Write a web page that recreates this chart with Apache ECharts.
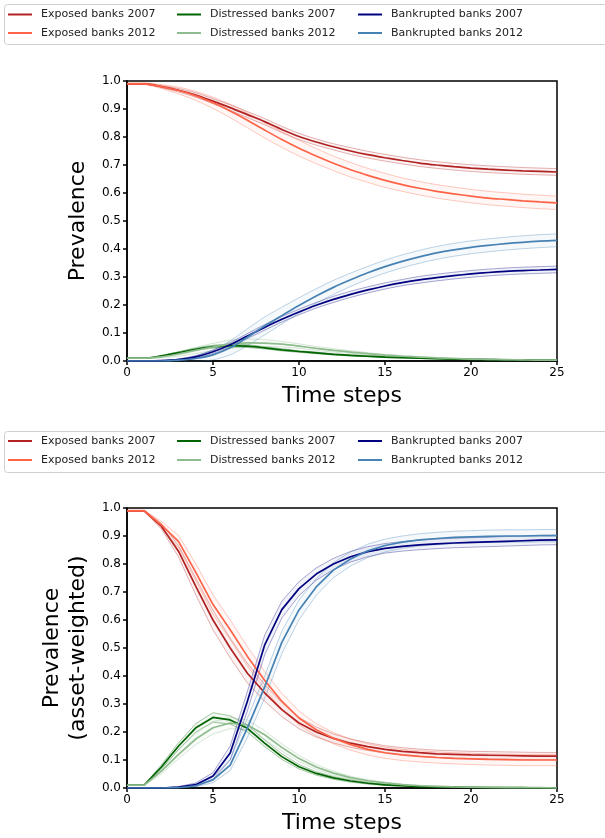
<!DOCTYPE html>
<html><head><meta charset="utf-8">
<script src="https://cdn.jsdelivr.net/npm/echarts@6/dist/echarts.min.js"></script>
<style>html,body{margin:0;padding:0;background:#fff}#c{width:605px;height:838px}</style>
</head><body><div id="c"></div>
<script>
const timeSteps = [0,1,2,3,4,5,6,7,8,9,10,11,12,13,14,15,16,17,18,19,20,21,22,23,24,25];
const yTicks = [0,0.1,0.2,0.3,0.4,0.5,0.6,0.7,0.8,0.9,1.0];
const xTicks = [0,5,10,15,20,25];
const seriesNames = ['Exposed banks 2007','Exposed banks 2012','Distressed banks 2007','Distressed banks 2012','Bankrupted banks 2007','Bankrupted banks 2012'];

// Top chart (Prevalence): means and half-widths of the bands
const topExposed2007 = [0.99,0.99,0.98,0.967,0.95,0.928,0.905,0.88,0.855,0.827,0.802,0.782,0.765,0.75,0.737,0.726,0.716,0.707,0.70,0.694,0.689,0.685,0.682,0.679,0.677,0.675];
const topExposed2012 = [0.99,0.99,0.98,0.966,0.947,0.922,0.893,0.86,0.825,0.791,0.76,0.732,0.706,0.683,0.663,0.645,0.63,0.617,0.606,0.597,0.589,0.582,0.577,0.572,0.568,0.565];
const topDistressed2007 = [0.01,0.01,0.018,0.03,0.042,0.051,0.055,0.053,0.047,0.04,0.034,0.029,0.024,0.02,0.017,0.014,0.012,0.01,0.008,0.007,0.006,0.005,0.004,0.004,0.003,0.003];
const topDistressed2012 = [0.01,0.01,0.015,0.025,0.038,0.05,0.06,0.065,0.064,0.06,0.053,0.045,0.038,0.032,0.026,0.021,0.017,0.014,0.011,0.009,0.007,0.006,0.005,0.004,0.003,0.003];
const topBankrupted2007 = [0,0,0.001,0.005,0.015,0.033,0.058,0.089,0.12,0.149,0.175,0.199,0.22,0.238,0.254,0.268,0.28,0.29,0.298,0.305,0.311,0.316,0.32,0.323,0.325,0.327];
const topBankrupted2012 = [0,0,0,0.003,0.009,0.022,0.047,0.085,0.125,0.162,0.198,0.232,0.263,0.29,0.315,0.337,0.356,0.372,0.386,0.397,0.406,0.413,0.419,0.424,0.428,0.431];

const topSpreadExposed2007 = [0.002,0.002,0.004,0.006,0.008,0.009,0.01,0.011,0.011,0.011,0.011,0.011,0.011,0.012,0.012,0.012,0.012,0.012,0.012,0.012,0.012,0.012,0.012,0.012,0.012,0.012];
const topSpreadExposed2012 = [0.003,0.003,0.007,0.012,0.016,0.02,0.024,0.027,0.028,0.028,0.028,0.027,0.026,0.026,0.025,0.025,0.024,0.024,0.024,0.024,0.024,0.024,0.024,0.024,0.024,0.024];
const topSpreadDistressed2007 = [0.001,0.001,0.002,0.003,0.004,0.005,0.005,0.005,0.004,0.004,0.003,0.003,0.002,0.002,0.002,0.002,0.001,0.001,0.001,0.001,0.001,0.001,0.001,0.001,0.001,0.001];
const topSpreadDistressed2012 = [0.001,0.001,0.004,0.008,0.011,0.013,0.015,0.014,0.012,0.01,0.008,0.007,0.006,0.005,0.004,0.003,0.003,0.002,0.002,0.002,0.001,0.001,0.001,0.001,0.001,0.001];
const topSpreadBankrupted2007 = [0,0,0,0.002,0.004,0.006,0.008,0.009,0.01,0.01,0.01,0.01,0.011,0.011,0.011,0.011,0.011,0.012,0.012,0.012,0.012,0.012,0.012,0.012,0.012,0.012];
const topSpreadBankrupted2012 = [0,0,0,0.004,0.01,0.018,0.025,0.03,0.032,0.03,0.028,0.026,0.025,0.024,0.023,0.023,0.023,0.023,0.023,0.023,0.023,0.023,0.023,0.023,0.023,0.023];

// Bottom chart (asset-weighted)
const botExposed2007 = [0.99,0.99,0.935,0.845,0.72,0.60,0.50,0.41,0.34,0.28,0.232,0.2,0.177,0.16,0.148,0.138,0.131,0.126,0.122,0.12,0.118,0.117,0.116,0.115,0.114,0.114];
const botExposed2012 = [0.99,0.99,0.94,0.88,0.77,0.655,0.565,0.47,0.385,0.31,0.25,0.208,0.178,0.155,0.138,0.126,0.118,0.113,0.109,0.106,0.104,0.102,0.101,0.1,0.1,0.1];
const botDistressed2007 = [0.01,0.01,0.075,0.15,0.215,0.252,0.243,0.213,0.16,0.112,0.076,0.052,0.036,0.025,0.017,0.011,0.008,0.005,0.004,0.003,0.002,0.001,0.001,0.001,0,0];
const botDistressed2012 = [0.01,0.01,0.06,0.12,0.175,0.215,0.232,0.225,0.19,0.145,0.105,0.075,0.053,0.037,0.026,0.018,0.012,0.008,0.006,0.004,0.003,0.002,0.001,0.001,0.001,0];
const botBankrupted2007 = [0,0,0,0.003,0.012,0.043,0.125,0.31,0.51,0.637,0.712,0.764,0.80,0.826,0.844,0.856,0.863,0.868,0.872,0.875,0.877,0.879,0.881,0.883,0.885,0.886];
const botBankrupted2012 = [0,0,0,0.001,0.008,0.029,0.082,0.215,0.36,0.52,0.636,0.718,0.778,0.818,0.847,0.866,0.878,0.886,0.891,0.895,0.897,0.899,0.9,0.9,0.901,0.901];

const botSpreadExposed2007 = [0.002,0.002,0.01,0.02,0.03,0.035,0.035,0.035,0.03,0.025,0.02,0.018,0.016,0.015,0.014,0.013,0.013,0.013,0.013,0.013,0.013,0.013,0.013,0.013,0.013,0.013];
const botSpreadExposed2012 = [0.002,0.002,0.012,0.022,0.03,0.035,0.035,0.035,0.032,0.028,0.025,0.022,0.02,0.02,0.02,0.02,0.02,0.02,0.02,0.02,0.02,0.02,0.02,0.02,0.02,0.02];
const botSpreadDistressed2007 = [0.001,0.001,0.008,0.012,0.015,0.017,0.015,0.013,0.012,0.01,0.008,0.006,0.005,0.004,0.003,0.002,0.002,0.001,0.001,0.001,0.001,0.001,0.001,0.001,0.001,0.001];
const botSpreadDistressed2012 = [0.001,0.001,0.01,0.015,0.02,0.022,0.02,0.018,0.015,0.013,0.011,0.009,0.007,0.005,0.004,0.003,0.002,0.002,0.001,0.001,0.001,0.001,0.001,0.001,0.001,0.001];
const botSpreadBankrupted2007 = [0,0,0,0.002,0.006,0.012,0.025,0.035,0.035,0.03,0.025,0.022,0.02,0.019,0.018,0.017,0.017,0.017,0.017,0.017,0.017,0.017,0.017,0.017,0.017,0.017];
const botSpreadBankrupted2012 = [0,0,0,0.001,0.004,0.01,0.02,0.035,0.04,0.04,0.035,0.03,0.027,0.025,0.024,0.023,0.022,0.022,0.022,0.022,0.022,0.022,0.022,0.022,0.022,0.022];

const colors = ['#b22222','#ff6347','#006400','#8fbc8f','#000080','#4682b4'];

const FONT = 'DejaVu Sans';
const series = [];

function addGroup(gi, name, color, mean, spread, smooth) {
  const lo = mean.map((v,i)=>v-spread[i]);
  const hi = mean.map((v,i)=>v+spread[i]);
  series.push({
    type:'custom', xAxisIndex:gi, yAxisIndex:gi, silent:true, z:1, clip:true,
    data:[[0,0]],
    renderItem:function(params, api){
      const pts=[];
      for(let i=0;i<timeSteps.length;i++) pts.push(api.coord([timeSteps[i], lo[i]]));
      for(let i=timeSteps.length-1;i>=0;i--) pts.push(api.coord([timeSteps[i], hi[i]]));
      return {type:'polygon', shape:{points:pts}, style:{fill:color, opacity:0.05}};
    }
  });
  [lo,hi].forEach(arr=>{
    series.push({type:'line', xAxisIndex:gi, yAxisIndex:gi, silent:true, z:2, symbol:'none',
      smooth: smooth,
      data: arr.map((v,i)=>[timeSteps[i], v]),
      lineStyle:{color:color, width:1, opacity:0.35}});
  });
  series.push({name:name, type:'line', xAxisIndex:gi, yAxisIndex:gi, z:3, symbol:'none',
    smooth: smooth, color: color,
    data: mean.map((v,i)=>[timeSteps[i], v]),
    lineStyle:{color:color, width:1.7}});
}

const topGroups = [
  [topExposed2007, topSpreadExposed2007],[topExposed2012, topSpreadExposed2012],
  [topDistressed2007, topSpreadDistressed2007],[topDistressed2012, topSpreadDistressed2012],
  [topBankrupted2007, topSpreadBankrupted2007],[topBankrupted2012, topSpreadBankrupted2012]];
const botGroups = [
  [botExposed2007, botSpreadExposed2007],[botExposed2012, botSpreadExposed2012],
  [botDistressed2007, botSpreadDistressed2007],[botDistressed2012, botSpreadDistressed2012],
  [botBankrupted2007, botSpreadBankrupted2007],[botBankrupted2012, botSpreadBankrupted2012]];
topGroups.forEach((g,k)=>addGroup(0, seriesNames[k], colors[k], g[0], g[1], 0.3));
botGroups.forEach((g,k)=>addGroup(1, seriesNames[k], colors[k], g[0], g[1], false));

function xAx(gi, gap){
  return {type:'value', gridIndex:gi, min:xTicks[0], max:xTicks[xTicks.length-1], interval:xTicks[1]-xTicks[0],
    name:'Time steps', nameLocation:'middle', nameGap:gap,
    nameTextStyle:{fontFamily:FONT, fontSize:22, color:'#000'},
    axisLine:{show:true, onZero:false, lineStyle:{color:'#000', width:1.5}},
    axisTick:{show:true, length:4, lineStyle:{color:'#000', width:1.5}},
    axisLabel:{fontFamily:FONT, fontSize:12, color:'#000', margin:6},
    splitLine:{show:false}};
}
function yAx(gi, name, gap, lh){
  return {type:'value', gridIndex:gi, min:yTicks[0], max:yTicks[yTicks.length-1], interval:yTicks[1]-yTicks[0],
    name:name, nameLocation:'middle', nameGap:gap,
    nameTextStyle:{fontFamily:FONT, fontSize:22, color:'#000', lineHeight:lh},
    axisLine:{show:true, onZero:false, lineStyle:{color:'#000', width:1.5}},
    axisTick:{show:true, length:4, lineStyle:{color:'#000', width:1.5}},
    axisLabel:{fontFamily:FONT, fontSize:12, color:'#000', margin:6, formatter:v=>v.toFixed(1)},
    splitLine:{show:false}};
}

function legendCol(left, top, names, gap){
  return {orient:'vertical', left:left, top:top, padding:0, itemGap:gap, itemWidth:24, itemHeight:2,
    icon:'rect', data:names, selectedMode:false,
    textStyle:{fontFamily:FONT, fontSize:11, color:'#222', lineHeight:14, padding:[0,0,0,4]}};
}

const option = {
  animation:false,
  backgroundColor:'#fff',
  graphic:[
    {type:'rect', left:4, top:4, shape:{width:610, height:40, r:3}, style:{fill:'#fff', stroke:'#d0d0d0', lineWidth:1}, z:0},
    {type:'rect', left:4, top:431, shape:{width:610, height:41, r:3}, style:{fill:'#fff', stroke:'#d0d0d0', lineWidth:1}, z:0}
  ],
  legend:[
    legendCol(8, 7.5, [seriesNames[0], seriesNames[1]], 4.5),
    legendCol(177, 7.5, [seriesNames[2], seriesNames[3]], 4.5),
    legendCol(358, 7.5, [seriesNames[4], seriesNames[5]], 4.5),
    legendCol(8, 434, [seriesNames[0], seriesNames[1]], 5),
    legendCol(177, 434, [seriesNames[2], seriesNames[3]], 5),
    legendCol(358, 434, [seriesNames[4], seriesNames[5]], 5)
  ],
  grid:[
    {left:127, top:81, width:430, height:280, show:true, borderColor:'#000', borderWidth:1.5, backgroundColor:'transparent'},
    {left:127, top:508, width:430, height:280, show:true, borderColor:'#000', borderWidth:1.5, backgroundColor:'transparent'}
  ],
  xAxis:[xAx(0,24), xAx(1,24)],
  yAxis:[yAx(0,'Prevalence',31,26), yAx(1,'Prevalence\n(asset-weighted)',29,26)],
  series:series
};
const chart = echarts.init(document.getElementById('c'), null, {renderer:'canvas'});
chart.setOption(option);
</script>
</body></html>
